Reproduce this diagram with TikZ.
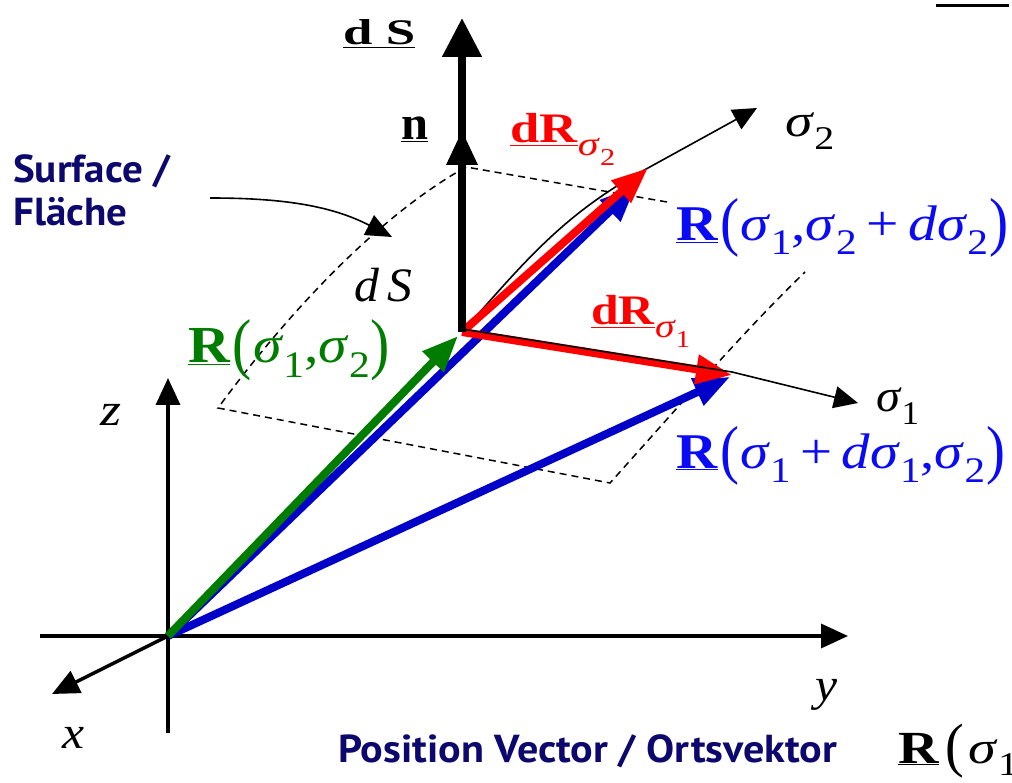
\documentclass[tikz,border=0pt]{standalone}
\usepackage{fontspec}
\usepackage{graphicx}
\setmainfont{Liberation Serif}
\newfontfamily\lblsans{PT Sans Bold}
\usetikzlibrary{arrows.meta}
\definecolor{navy}{RGB}{12,8,110}
\definecolor{dgreen}{RGB}{0,125,0}
\definecolor{lblue}{RGB}{0,0,200}
\definecolor{tblue}{RGB}{10,10,245}
\definecolor{vred}{RGB}{255,0,0}
\newcommand\fs[1]{\fontsize{#1}{#1}\selectfont}
\newcommand\fitw[2]{\resizebox{#1pt}{\height}{#2}}
\newcommand\bR{\underline{\textbf{R}}}
\newcommand\sg{\textit{σ}}
\newcommand\subs[1]{\raisebox{-0.28em}{\scalebox{0.72}{#1}}}
\newcommand\bsubs[1]{\raisebox{-0.3em}{\scalebox{0.8}{#1}}}
\newcommand\lp{\kern0.04em\raisebox{-0.06em}{\scalebox{1}[1.3]{(}}\kern0.02em}
\newcommand\rp{\kern0.02em\raisebox{-0.06em}{\scalebox{1}[1.3]{)}}}
\tikzset{
  axis/.style={line width=3.5pt,-{Triangle[length=27pt,width=24pt]}},
  thinarr/.style={line width=1.6pt,-{Triangle[length=24pt,width=22pt]}},
  vec/.style={line width=8pt,-{Triangle[length=36pt,width=28pt]}},
  patch/.style={line width=1.5pt,dash pattern=on 7pt off 5pt},
  lbl/.style={inner sep=0pt,anchor=base west},
  sanslbl/.style={lbl,text=navy,font=\lblsans\fs{39}},
}
\begin{document}
\begin{tikzpicture}[x=1pt,y=-1pt]
\useasboundingbox (0,0) rectangle (1012,783);
% coordinates
\coordinate (O) at (168,636);
\coordinate (P) at (462,332);
\coordinate (Yend) at (848,636);
\coordinate (Ystart) at (40,636);
\coordinate (Zend) at (168,378);
\coordinate (Zstart) at (168,733);
\coordinate (Xend) at (52,694);
\coordinate (Ntop) at (462,18);
\coordinate (Nmid) at (462,131);
\coordinate (T2) at (648,168);
\coordinate (T1) at (732,375);
\coordinate (S2end) at (757,108);
\coordinate (S1end) at (858,403);
\coordinate (B2) at (636,186);
\coordinate (B1) at (730,377);
\coordinate (G) at (458,336);
\coordinate (P1) at (462,329);
\coordinate (T1b) at (732,372);
% dashed surface patch
\draw[patch] (667,202) -- (466,167) .. controls (380,215) and (290,310) .. (218,408) -- (610,483) .. controls (680,405) and (745,330) .. (805,272);
% axes
\draw[line width=3.5pt] (Ystart) -- (O);
\draw[axis] (O) -- (Yend);
\draw[line width=3.5pt] (Zstart) -- (O);
\draw[axis] (O) -- (Zend);
\draw[axis] (O) -- (Xend);
% position vectors
\draw[vec,lblue] (O) -- (B1);
\draw[vec,lblue] (O) -- (B2);
\draw[vec,dgreen] (O) -- (G);
% sigma curves
\draw[line width=1.6pt] (P) .. controls (520,268) and (560,215) .. (T2);
\draw[thinarr] (T2) -- (S2end);
% differential vectors
\draw[vec,vred] (P) -- (T2);
\draw[vec,vred] (P) -- (T1);
\draw[line width=1.6pt] (P1) -- (T1b);
\draw[thinarr] (T1b) -- (S1end);
% normal
\draw[line width=8pt,-{Triangle[length=39pt,width=38pt]}] (P) -- (Ntop);
\fill (Nmid) -- ++(-16,34) -- ++(32,0) -- cycle;
% surface label arrow
\draw[line width=1.6pt,-{Triangle[length=26pt,width=22pt]}] (210,198) .. controls (280,198) and (330,205) .. (392,237);
% top-right cut off rule
\draw[line width=3pt] (936,6) -- (1009,6);
% labels
\node[sanslbl] (surf) at (13,183) {\fitw{157}{Surface /}};
\node[sanslbl] (flae) at (13,226) {\fitw{114}{Fläche}};
\node[sanslbl] (posv) at (338,762) {\fitw{499}{Position Vector / Ortsvektor}};
\node[lbl,font=\fs{46}] (zl) at (100,425) {\fitw{21}{\textit{z}}};
\node[lbl,font=\fs{46}] (yl) at (815,700) {\fitw{22}{\textit{y}}};
\node[lbl,font=\fs{46}] (xl) at (62,748) {\fitw{22}{\textit{x}}};
\node[lbl,font=\fs{48}] (dSi) at (354,302) {\fitw{58}{\textit{d\,S}}};
\node[lbl,font=\fs{36}] (dSb) at (343,45) {\fitw{72}{\underline{\textbf{d S}}}};
\node[lbl,font=\fs{48}] (nl) at (401,140) {\fitw{27}{\underline{\textbf{n}}}};
\node[lbl,font=\fs{46}] (s2) at (785,137) {\fitw{49}{\sg\subs{2}}};
\node[lbl,font=\fs{46}] (s1) at (876,412) {\fitw{43}{\sg\subs{1}}};
\node[lbl,font=\fs{42},text=vred] (dR2) at (510,143) {\fitw{105}{\underline{\textbf{dR}}\bsubs{\sg\subs{2}}}};
\node[lbl,font=\fs{42},text=vred] (dR1) at (591,325) {\fitw{99}{\underline{\textbf{dR}}\bsubs{\sg\subs{1}}}};
\node[lbl,font=\fs{52},text=dgreen] (Rg) at (188,363) {\fitw{202}{\bR\lp\sg\subs{1},\sg\subs{2}\rp}};
\node[lbl,font=\fs{50},text=tblue] (Rb2) at (676,241) {\fitw{332}{\bR\lp\sg\subs{1},\sg\subs{2}\,+\,\textit{d}\sg\subs{2}\rp}};
\node[lbl,font=\fs{50},text=tblue] (Rb1) at (676,468) {\fitw{329}{\bR\lp\sg\subs{1}\,+\,\textit{d}\sg\subs{1},\sg\subs{2}\rp}};
\node[lbl,font=\fs{46}] (Rk) at (898,763) {\fitw{120}{\bR\kern0.08em\lp\kern0.05em\sg\subs{1}}};
\end{tikzpicture}
\end{document}
